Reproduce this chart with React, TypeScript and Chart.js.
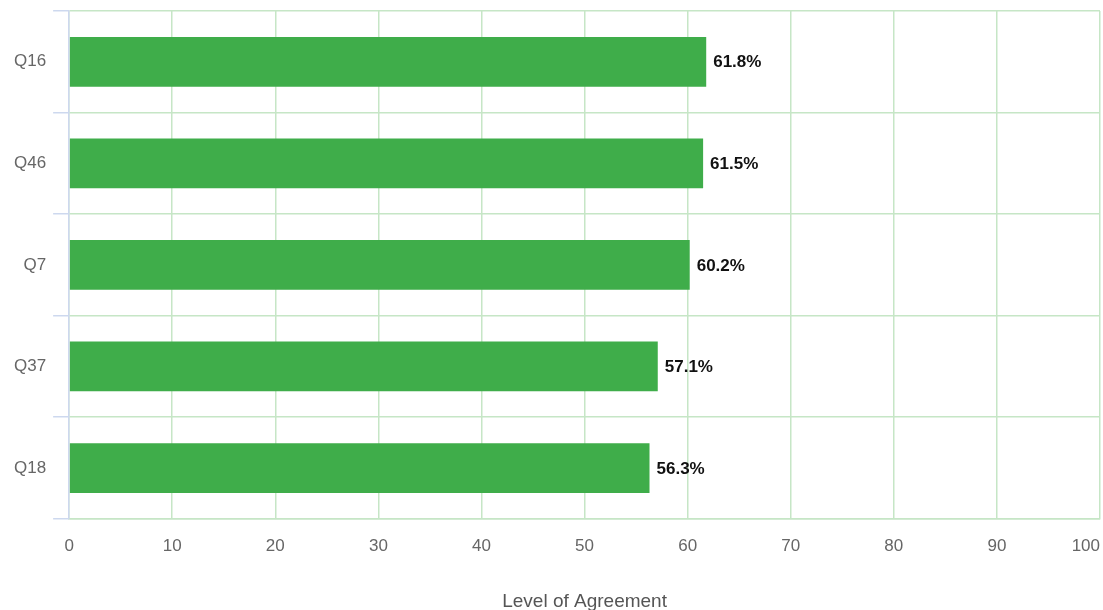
import React, { useEffect, useRef } from "react";
import { Chart, registerables } from "chart.js";

Chart.register(...registerables);

const categories = ["Q16", "Q46", "Q7", "Q37", "Q18"];
const agreement = [61.8, 61.5, 60.2, 57.1, 56.3];
const xTicks = [0, 10, 20, 30, 40, 50, 60, 70, 80, 90, 100];
const axisTitle = "Level of Agreement";

const FONT = "'Liberation Sans', Arial, Helvetica, sans-serif";
const TICK_SIZE = 17;

const valueLabels = {
  id: "valueLabels",
  afterDatasetsDraw(chart: any) {
    const ctx = chart.ctx;
    const meta = chart.getDatasetMeta(0);
    ctx.save();
    ctx.font = `bold 17px ${FONT}`;
    ctx.fillStyle = "#111111";
    ctx.textAlign = "left";
    ctx.textBaseline = "middle";
    meta.data.forEach((bar: any, i: number) => {
      ctx.fillText(agreement[i].toFixed(1) + "%", bar.x + 7, bar.y + 1);
    });
    ctx.restore();
  },
};

// last x tick label is drawn right-aligned to the final grid line
const lastTickLabel = {
  id: "lastTickLabel",
  afterDraw(chart: any) {
    const x = chart.scales.x;
    const last = xTicks[xTicks.length - 1];
    const items = x.getLabelItems ? x.getLabelItems() : [];
    const first = items[0];
    let y = x.top + 26;
    let baseline = "middle";
    if (first && first.options && first.options.translation) {
      y = first.options.translation[1] + (first.textOffset || 0);
      baseline = first.options.textBaseline || "middle";
    }
    const ctx = chart.ctx;
    ctx.save();
    ctx.font = `${TICK_SIZE}px ${FONT}`;
    ctx.fillStyle = "#666666";
    ctx.textAlign = "right";
    ctx.textBaseline = baseline;
    ctx.fillText(String(last), x.getPixelForValue(last), y);
    ctx.restore();
  },
};

export default function App() {
  const ref = useRef<HTMLCanvasElement | null>(null);
  useEffect(() => {
    document.body.style.margin = "0";
    const chart = new Chart(ref.current!, {
      type: "bar",
      data: {
        labels: categories,
        datasets: [
          {
            data: agreement,
            backgroundColor: "#3fad4a",
            borderWidth: 0,
            categoryPercentage: 1,
            barPercentage: 0.49,
          },
        ],
      },
      options: {
        indexAxis: "y",
        animation: false,
        responsive: false,
        maintainAspectRatio: false,
        layout: { padding: { top: 11, right: 3, left: 7, bottom: 0 } },
        plugins: { legend: { display: false }, tooltip: { enabled: false } },
        scales: {
          x: {
            min: 0,
            max: 100,
            afterBuildTicks: (axis: any) => {
              axis.ticks = xTicks.map((v) => ({ value: v }));
            },
            afterFit: (axis: any) => {
              axis.paddingRight = 0;
            },
            grid: { color: "#c6e6c6", drawTicks: false, lineWidth: 1.5 },
            border: { color: "#c6e6c6", width: 1.5 },
            ticks: {
              color: "#666666",
              font: { family: FONT, size: TICK_SIZE },
              padding: 17,
              maxRotation: 0,
              callback: (v: any) => (Number(v) === xTicks[xTicks.length - 1] ? "" : String(v)),
            },
            title: {
              display: true,
              text: axisTitle,
              color: "#555555",
              font: { family: FONT, size: 19 },
              padding: { top: 17, bottom: -3 },
            },
          },
          y: {
            afterFit: (axis: any) => {
              axis.paddingTop = 0;
              axis.paddingBottom = 0;
            },
            grid: { color: "#c6e6c6", tickColor: "#cdd8ee", tickLength: 16, lineWidth: 1.5, offset: true },
            border: { color: "#cdd8ee", width: 1.5 },
            ticks: { color: "#666666", font: { family: FONT, size: TICK_SIZE }, padding: 7 },
          },
        },
      },
      plugins: [valueLabels, lastTickLabel],
    });
    return () => chart.destroy();
  }, []);
  return (
    <div style={{ position: "absolute", left: 0, top: 0, width: 1103, height: 610 }}>
      <canvas ref={ref} width={1103} height={610} />
    </div>
  );
}
